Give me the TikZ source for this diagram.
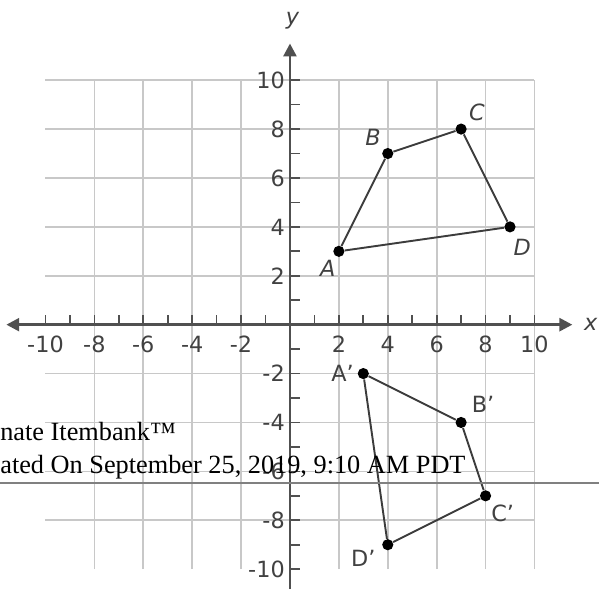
\documentclass[tikz,border=0pt]{standalone}
\usepackage{fontspec}
\setmainfont{DejaVu Sans}
\newfontfamily\stampfont{Liberation Serif}
\usetikzlibrary{arrows.meta}
\definecolor{axisgray}{RGB}{80,80,80}
\definecolor{gridgray}{RGB}{200,200,200}
\definecolor{edgegray}{RGB}{60,60,60}
\definecolor{labelgray}{RGB}{65,65,65}
\tikzset{
  grd/.style={gridgray,line width=1pt},
  ax/.style={axisgray,line width=1.6pt},
  tk/.style={axisgray,line width=1pt},
  edge/.style={edgegray,line width=1.1pt},
  pt/.style={circle,fill=black,inner sep=0pt,minimum size=6.5pt},
  lbl/.style={labelgray,font=\fontsize{13}{15}\selectfont,inner sep=0pt},
  stamp/.style={font=\stampfont\fontsize{15.3}{18}\selectfont,anchor=base west,inner sep=0pt}
}
\newcommand{\tip}{Triangle[length=7.5pt,width=7.5pt]}

\begin{document}
\begin{tikzpicture}[x=0.5cm,y=0.5cm]
\useasboundingbox (-11.86,-10.82) rectangle (12.64,13.28);
\draw[grd] (-10,-10) grid (10,10);
% axes
\coordinate (xw) at (-11.6,0); \coordinate (xe) at (11.55,0);
\coordinate (ys) at (0,-10.82); \coordinate (yn) at (0,11.5);
\draw[ax,{\tip}-{\tip}] (xw) -- (xe);
\draw[ax,-{\tip}] (ys) -- (yn);
\foreach \i in {-10,...,10} {
  \draw[tk] (\i,0) -- (\i,0.38);
  \draw[tk] (0,\i) -- (0.4,\i);
}
\foreach \i in {-10,-8,-6,-4,-2,2,4,6,8,10} {
  \node[lbl] (xl\i) at (\i,-0.8) {\i};
  \node[lbl,anchor=east] (yl\i) at (-0.2,\i) {\i};
}
\node[lbl] (ylab) at (0.1,12.45) {\itshape y};
\node[lbl] (xlab) at (12.3,0) {\itshape x};
% ABCD
\node[pt] (A) at (2,3) {};
\node[pt] (B) at (4,7) {};
\node[pt] (C) at (7,8) {};
\node[pt] (D) at (9,4) {};
\draw[edge] (A) -- (B) -- (C) -- (D) -- (A);
\node[lbl] (la) at (1.55,2.3) {\itshape A};
\node[lbl] (lb) at (3.4,7.66) {\itshape B};
\node[lbl] (lc) at (7.65,8.7) {\itshape C};
\node[lbl] (ld) at (9.5,3.15) {\itshape D};
% image
\node[pt] (A') at (3,-2) {};
\node[pt] (B') at (7,-4) {};
\node[pt] (C') at (8,-7) {};
\node[pt] (D') at (4,-9) {};
\draw[edge] (A') -- (B') -- (C') -- (D') -- (A');
\node[lbl] (la') at (2.15,-2.0) {A’};
\node[lbl] (lb') at (7.9,-3.25) {B’};
\node[lbl] (lc') at (8.7,-7.7) {C’};
\node[lbl] (ld') at (3.0,-9.55) {D’};
% stamp
\node[stamp] (st1) at (-11.86,-4.75) {nate Itembank™};
\node[stamp] (st2) at (-11.86,-6.07) {ated On September 25, 2019, 9:10 AM PDT};
\coordinate (rl) at (-11.86,-6.48); \coordinate (rr) at (12.64,-6.48);
\draw[gray,line width=0.9pt] (rl) -- (rr);
\end{tikzpicture}
\end{document}
